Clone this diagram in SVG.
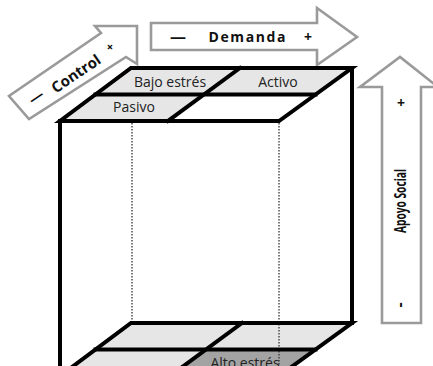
<svg xmlns="http://www.w3.org/2000/svg" width="433" height="366" viewBox="0 0 433 366">
<style>
.edge{stroke:#000;stroke-width:4;fill:none;stroke-linejoin:miter;stroke-linecap:square}
.hid{stroke:#333;stroke-width:1.3;stroke-dasharray:1.5 1.5;fill:none}
.cell{fill:#e6e6e6;stroke:none}
.dark{fill:#a3a3a3;stroke:none}
.arrow{fill:#fff;stroke:#9a9a9a;stroke-width:2.6;stroke-linejoin:miter}
.lbl{font-family:"Open Sans","Liberation Sans",sans-serif;font-size:14px;fill:#222;text-anchor:middle}
.alb{font-family:"Open Sans","Liberation Sans",sans-serif;font-weight:bold;fill:#111;text-anchor:middle}
</style>
<rect width="433" height="366" fill="#fff"/>

<g id="arrow-control">
<polygon class="arrow" points="137,26 95,26 101,33 9,96 29,119 126,57 137,64"/>
<text class="alb" transform="translate(79,78) rotate(-34)" style="font-size:15px">Control</text>
<text class="alb" transform="translate(39,101) rotate(-34)" style="font-size:15px">—</text>
<text class="alb" transform="translate(113,50) rotate(-45)" style="font-size:12px">+</text>
</g>

<g id="arrow-demanda">
<polygon class="arrow" points="151,23 317,23 317,8 357,37 317,65 317,50 151,50"/>
<text class="alb" x="178" y="42" style="font-size:16px">—</text>
<text class="alb" x="247" y="42" style="font-size:14px" textLength="77" lengthAdjust="spacing">Demanda</text>
<text class="alb" x="308" y="42" style="font-size:14px">+</text>
</g>

<g id="arrow-apoyo">
<polygon class="arrow" points="382,323 382,87 360,87 400,57 438,87 421,87 421,323"/>
<text class="alb" x="401" y="108" style="font-size:14px">+</text>
<text class="alb" transform="translate(406,201) rotate(-90)" style="font-size:16px" textLength="64" lengthAdjust="spacingAndGlyphs">Apoyo Social</text>
<text class="alb" transform="translate(405,305) rotate(-90)" style="font-size:16px">-</text>
</g>

<g id="cube">
<polygon class="cell" points="131,68 240,68 204,94.5 95.5,94.5"/>
<polygon class="cell" points="240,68 352,68 315.5,94.5 204,94.5"/>
<polygon class="cell" points="95.5,94.5 204,94.5 168,121 60,121"/>
<polygon class="cell" points="131,323 242,323 206,349.5 95.5,349.5"/>
<polygon class="cell" points="242,323 352,323 315.5,349.5 206,349.5"/>
<polygon class="cell" points="95.5,349.5 206,349.5 170,376 60,376"/>
<polygon class="dark" points="206,349.5 315.5,349.5 279,376 170,376"/>
<line class="hid" x1="132" y1="123" x2="132" y2="321"/>
<line class="hid" x1="279" y1="123" x2="279" y2="366"/>
<text class="lbl" x="170" y="87">Bajo estrés</text>
<text class="lbl" x="278" y="87">Activo</text>
<text class="lbl" x="134" y="112">Pasivo</text>
<text class="lbl" x="245" y="368">Alto estrés</text>
<polygon class="edge" points="131,68 352,68 279,121 60,121"/>
<line class="edge" x1="95.5" y1="94.5" x2="315.5" y2="94.5"/>
<line class="edge" x1="240" y1="68" x2="168" y2="121"/>
<line class="edge" x1="60" y1="121" x2="60" y2="370"/>
<line class="edge" x1="352" y1="68" x2="352" y2="323"/>
<polyline class="edge" points="60,376 131,323 352,323 279,376"/>
<line class="edge" x1="95.5" y1="349.5" x2="315.5" y2="349.5"/>
<line class="edge" x1="242" y1="323" x2="170" y2="376"/>
</g>
</svg>
